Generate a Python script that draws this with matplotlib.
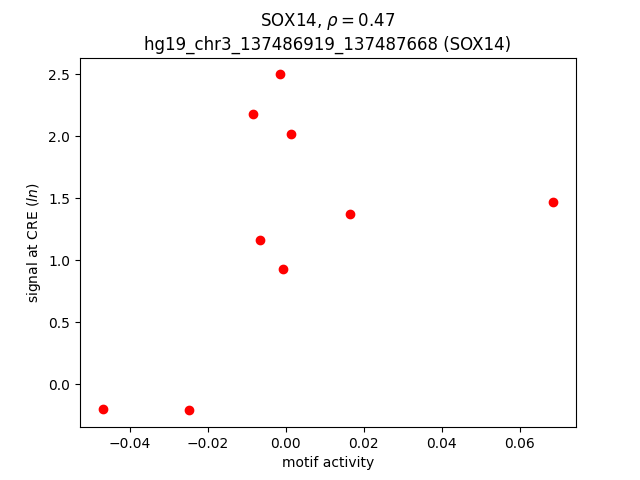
import matplotlib
matplotlib.use("Agg")
import matplotlib.pyplot as plt

# motif activity vs CRE signal
motif_activity = [-0.047, -0.0248, -0.0083, -0.0065, -0.0014, -0.0006, 0.0014, 0.0166, 0.0687]
cre_signal = [-0.197, -0.21, 2.182, 1.165, 2.50, 0.93, 2.02, 1.375, 1.47]

fig, ax = plt.subplots(figsize=(6.4, 4.8), dpi=100)
ax.scatter(motif_activity, cre_signal, color="red")
ax.set_title("SOX14, $\\rho = 0.47$\nhg19_chr3_137486919_137487668 (SOX14)")
ax.set_xlabel("motif activity")
ax.set_ylabel("signal at CRE ($ln$)")

fig.savefig("out.png", dpi=100)
